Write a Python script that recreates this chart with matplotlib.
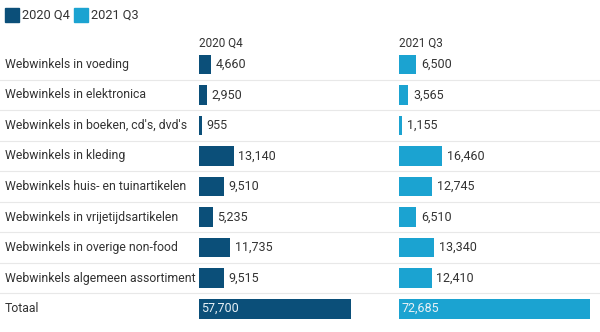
import matplotlib.pyplot as plt
from matplotlib.patches import Rectangle

categories = [
    "Webwinkels in voeding",
    "Webwinkels in elektronica",
    "Webwinkels in boeken, cd's, dvd's",
    "Webwinkels in kleding",
    "Webwinkels huis- en tuinartikelen",
    "Webwinkels in vrijetijdsartikelen",
    "Webwinkels in overige non-food",
    "Webwinkels algemeen assortiment",
    "Totaal",
]
q4_2020 = [4660, 2950, 955, 13140, 9510, 5235, 11735, 9515, 57700]
q3_2021 = [6500, 3565, 1155, 16460, 12745, 6510, 13340, 12410, 72685]
series_names = ["2020 Q4", "2021 Q3"]

dark = "#0b4f79"
light = "#1ba3d1"
text_col = "#333333"
plt.rcParams["font.family"] = ["Roboto", "DejaVu Sans"]

W, H = 600, 332
fig = plt.figure(figsize=(W / 100, H / 100), dpi=100)
fig.patch.set_facecolor("white")

n = len(categories)
top_px, bot_px = 49, 324


def fx(px):
    return px / W


def fy(px):
    return 1 - px / H


# background axes for row labels and separator lines
bg = fig.add_axes([0, fy(bot_px), 1, (bot_px - top_px) / H])
bg.set_xlim(0, W)
bg.set_ylim(n - 0.5, -0.5)
bg.axis("off")
for k in range(1, n):
    bg.axhline(k - 0.5, color="#e8e8e8", lw=0.8, zorder=0)
for i, name in enumerate(categories):
    bg.text(5, i, name, va="center", ha="left", fontsize=8.8, color=text_col)

xmax = max(q3_2021)
col_w = 191
for left, vals, col, title in [(199, q4_2020, dark, series_names[0]),
                               (399, q3_2021, light, series_names[1])]:
    ax = fig.add_axes([fx(left), fy(bot_px), col_w / W, (bot_px - top_px) / H])
    ax.set_xlim(0, xmax)
    ax.set_ylim(n - 0.5, -0.5)
    ax.axis("off")
    ax.barh(range(n), vals, height=0.64, color=col, zorder=2)
    for i, v in enumerate(vals):
        if i == n - 1:
            ax.text(xmax * 0.012, i, f"{v:,}", va="center", ha="left",
                    fontsize=9, color="#e8f1f6", zorder=3)
        else:
            ax.text(v + xmax * 0.025, i, f"{v:,}", va="center", ha="left",
                    fontsize=9, color=text_col, zorder=3)
    fig.text(fx(left), fy(43), title, va="center", ha="left", fontsize=8.5, color=text_col)

# legend
for x0, col, name in [(5, dark, series_names[0]), (74, light, series_names[1])]:
    fig.patches.append(Rectangle((fx(x0), fy(22)), 14 / W, 14 / H,
                                 transform=fig.transFigure, color=col))
    fig.text(fx(x0 + 17), fy(15), name, va="center", ha="left", fontsize=9.2, color=text_col)

fig.savefig("out.png", dpi=100, facecolor="white")
